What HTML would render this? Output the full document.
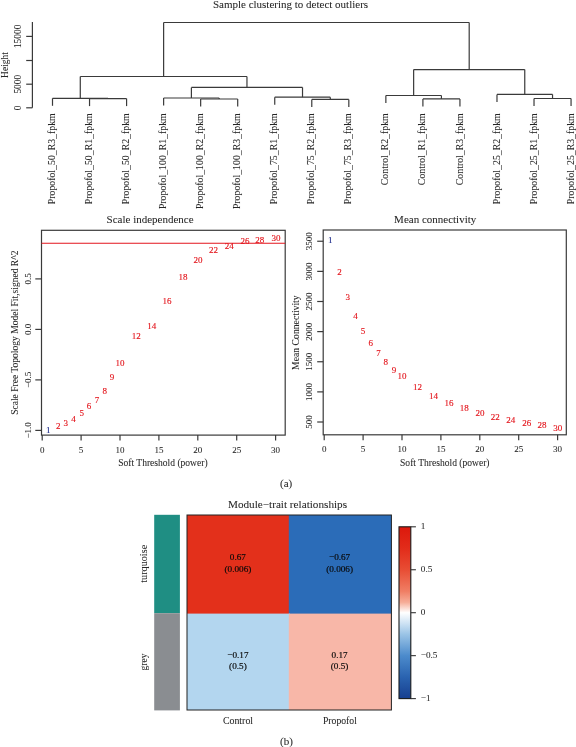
<!DOCTYPE html>
<html><head><meta charset="utf-8"><style>
html,body{margin:0;padding:0;background:#fff;}
body{width:576px;height:747px;overflow:hidden;}
#wrap{width:576px;height:747px;will-change:transform;}
svg{display:block;font-family:"Liberation Serif", serif;}
</style></head><body>
<div id="wrap"><svg width="576" height="747" viewBox="0 0 576 747">
<rect x="0" y="0" width="576" height="747" fill="#fff"/>
<text x="290.50" y="8.10" font-size="11" text-anchor="middle" fill="#262626" stroke="#262626" stroke-width="0.06">Sample clustering to detect outliers</text>
<line x1="32.40" y1="22.00" x2="32.40" y2="107.80" stroke="#3a3a3a" stroke-width="1.2"/>
<line x1="26.20" y1="107.80" x2="32.40" y2="107.80" stroke="#3a3a3a" stroke-width="1.2"/>
<text x="21.30" y="107.80" font-size="9.4" text-anchor="middle" fill="#262626" stroke="#262626" stroke-width="0.06" transform="rotate(-90 21.30 107.80)">0</text>
<line x1="26.20" y1="84.20" x2="32.40" y2="84.20" stroke="#3a3a3a" stroke-width="1.2"/>
<text x="21.30" y="84.20" font-size="9.4" text-anchor="middle" fill="#262626" stroke="#262626" stroke-width="0.06" transform="rotate(-90 21.30 84.20)">5000</text>
<line x1="26.20" y1="60.50" x2="32.40" y2="60.50" stroke="#3a3a3a" stroke-width="1.2"/>
<line x1="26.20" y1="36.40" x2="32.40" y2="36.40" stroke="#3a3a3a" stroke-width="1.2"/>
<text x="21.30" y="36.40" font-size="9.4" text-anchor="middle" fill="#262626" stroke="#262626" stroke-width="0.06" transform="rotate(-90 21.30 36.40)">15000</text>
<text x="8.00" y="65.00" font-size="9.5" text-anchor="middle" fill="#262626" stroke="#262626" stroke-width="0.06" transform="rotate(-90 8.00 65.00)">Height</text>
<line x1="89.54" y1="98.60" x2="126.58" y2="98.60" stroke="#3a3a3a" stroke-width="1.2"/>
<line x1="89.54" y1="98.60" x2="89.54" y2="106.10" stroke="#3a3a3a" stroke-width="1.2"/>
<line x1="126.58" y1="98.60" x2="126.58" y2="106.10" stroke="#3a3a3a" stroke-width="1.2"/>
<line x1="52.50" y1="98.30" x2="108.06" y2="98.30" stroke="#3a3a3a" stroke-width="1.2"/>
<line x1="52.50" y1="98.30" x2="52.50" y2="105.80" stroke="#3a3a3a" stroke-width="1.2"/>
<line x1="108.06" y1="98.30" x2="108.06" y2="98.60" stroke="#3a3a3a" stroke-width="1.2"/>
<line x1="200.66" y1="99.00" x2="237.70" y2="99.00" stroke="#3a3a3a" stroke-width="1.2"/>
<line x1="200.66" y1="99.00" x2="200.66" y2="106.50" stroke="#3a3a3a" stroke-width="1.2"/>
<line x1="237.70" y1="99.00" x2="237.70" y2="106.50" stroke="#3a3a3a" stroke-width="1.2"/>
<line x1="163.62" y1="98.00" x2="219.18" y2="98.00" stroke="#3a3a3a" stroke-width="1.2"/>
<line x1="163.62" y1="98.00" x2="163.62" y2="105.50" stroke="#3a3a3a" stroke-width="1.2"/>
<line x1="219.18" y1="98.00" x2="219.18" y2="99.00" stroke="#3a3a3a" stroke-width="1.2"/>
<line x1="311.78" y1="99.40" x2="348.82" y2="99.40" stroke="#3a3a3a" stroke-width="1.2"/>
<line x1="311.78" y1="99.40" x2="311.78" y2="106.90" stroke="#3a3a3a" stroke-width="1.2"/>
<line x1="348.82" y1="99.40" x2="348.82" y2="106.90" stroke="#3a3a3a" stroke-width="1.2"/>
<line x1="274.74" y1="97.20" x2="330.30" y2="97.20" stroke="#3a3a3a" stroke-width="1.2"/>
<line x1="274.74" y1="97.20" x2="274.74" y2="104.70" stroke="#3a3a3a" stroke-width="1.2"/>
<line x1="330.30" y1="97.20" x2="330.30" y2="99.40" stroke="#3a3a3a" stroke-width="1.2"/>
<line x1="191.40" y1="87.40" x2="302.52" y2="87.40" stroke="#3a3a3a" stroke-width="1.2"/>
<line x1="191.40" y1="87.40" x2="191.40" y2="98.00" stroke="#3a3a3a" stroke-width="1.2"/>
<line x1="302.52" y1="87.40" x2="302.52" y2="97.20" stroke="#3a3a3a" stroke-width="1.2"/>
<line x1="80.28" y1="76.50" x2="246.96" y2="76.50" stroke="#3a3a3a" stroke-width="1.2"/>
<line x1="80.28" y1="76.50" x2="80.28" y2="98.30" stroke="#3a3a3a" stroke-width="1.2"/>
<line x1="246.96" y1="76.50" x2="246.96" y2="87.40" stroke="#3a3a3a" stroke-width="1.2"/>
<line x1="422.90" y1="98.90" x2="459.94" y2="98.90" stroke="#3a3a3a" stroke-width="1.2"/>
<line x1="422.90" y1="98.90" x2="422.90" y2="106.40" stroke="#3a3a3a" stroke-width="1.2"/>
<line x1="459.94" y1="98.90" x2="459.94" y2="106.40" stroke="#3a3a3a" stroke-width="1.2"/>
<line x1="385.86" y1="95.50" x2="441.42" y2="95.50" stroke="#3a3a3a" stroke-width="1.2"/>
<line x1="385.86" y1="95.50" x2="385.86" y2="103.00" stroke="#3a3a3a" stroke-width="1.2"/>
<line x1="441.42" y1="95.50" x2="441.42" y2="98.90" stroke="#3a3a3a" stroke-width="1.2"/>
<line x1="534.02" y1="98.50" x2="571.06" y2="98.50" stroke="#3a3a3a" stroke-width="1.2"/>
<line x1="534.02" y1="98.50" x2="534.02" y2="106.00" stroke="#3a3a3a" stroke-width="1.2"/>
<line x1="571.06" y1="98.50" x2="571.06" y2="106.00" stroke="#3a3a3a" stroke-width="1.2"/>
<line x1="496.98" y1="94.40" x2="552.54" y2="94.40" stroke="#3a3a3a" stroke-width="1.2"/>
<line x1="496.98" y1="94.40" x2="496.98" y2="101.90" stroke="#3a3a3a" stroke-width="1.2"/>
<line x1="552.54" y1="94.40" x2="552.54" y2="98.50" stroke="#3a3a3a" stroke-width="1.2"/>
<line x1="413.64" y1="69.60" x2="524.76" y2="69.60" stroke="#3a3a3a" stroke-width="1.2"/>
<line x1="413.64" y1="69.60" x2="413.64" y2="95.50" stroke="#3a3a3a" stroke-width="1.2"/>
<line x1="524.76" y1="69.60" x2="524.76" y2="94.40" stroke="#3a3a3a" stroke-width="1.2"/>
<line x1="163.62" y1="22.50" x2="469.20" y2="22.50" stroke="#3a3a3a" stroke-width="1.2"/>
<line x1="163.62" y1="22.50" x2="163.62" y2="76.50" stroke="#3a3a3a" stroke-width="1.2"/>
<line x1="469.20" y1="22.50" x2="469.20" y2="69.60" stroke="#3a3a3a" stroke-width="1.2"/>
<text x="55.10" y="113.30" font-size="9.8" text-anchor="end" fill="#262626" stroke="#262626" stroke-width="0.06" transform="rotate(-90 55.10 113.30)">Propofol_50_R3_fpkm</text>
<text x="92.14" y="113.30" font-size="9.8" text-anchor="end" fill="#262626" stroke="#262626" stroke-width="0.06" transform="rotate(-90 92.14 113.30)">Propofol_50_R1_fpkm</text>
<text x="129.18" y="113.30" font-size="9.8" text-anchor="end" fill="#262626" stroke="#262626" stroke-width="0.06" transform="rotate(-90 129.18 113.30)">Propofol_50_R2_fpkm</text>
<text x="166.22" y="113.30" font-size="9.8" text-anchor="end" fill="#262626" stroke="#262626" stroke-width="0.06" transform="rotate(-90 166.22 113.30)">Propofol_100_R1_fpkm</text>
<text x="203.26" y="113.30" font-size="9.8" text-anchor="end" fill="#262626" stroke="#262626" stroke-width="0.06" transform="rotate(-90 203.26 113.30)">Propofol_100_R2_fpkm</text>
<text x="240.30" y="113.30" font-size="9.8" text-anchor="end" fill="#262626" stroke="#262626" stroke-width="0.06" transform="rotate(-90 240.30 113.30)">Propofol_100_R3_fpkm</text>
<text x="277.34" y="113.30" font-size="9.8" text-anchor="end" fill="#262626" stroke="#262626" stroke-width="0.06" transform="rotate(-90 277.34 113.30)">Propofol_75_R1_fpkm</text>
<text x="314.38" y="113.30" font-size="9.8" text-anchor="end" fill="#262626" stroke="#262626" stroke-width="0.06" transform="rotate(-90 314.38 113.30)">Propofol_75_R2_fpkm</text>
<text x="351.42" y="113.30" font-size="9.8" text-anchor="end" fill="#262626" stroke="#262626" stroke-width="0.06" transform="rotate(-90 351.42 113.30)">Propofol_75_R3_fpkm</text>
<text x="388.46" y="113.30" font-size="9.8" text-anchor="end" fill="#262626" stroke="#262626" stroke-width="0.06" transform="rotate(-90 388.46 113.30)">Control_R2_fpkm</text>
<text x="425.50" y="113.30" font-size="9.8" text-anchor="end" fill="#262626" stroke="#262626" stroke-width="0.06" transform="rotate(-90 425.50 113.30)">Control_R1_fpkm</text>
<text x="462.54" y="113.30" font-size="9.8" text-anchor="end" fill="#262626" stroke="#262626" stroke-width="0.06" transform="rotate(-90 462.54 113.30)">Control_R3_fpkm</text>
<text x="499.58" y="113.30" font-size="9.8" text-anchor="end" fill="#262626" stroke="#262626" stroke-width="0.06" transform="rotate(-90 499.58 113.30)">Propofol_25_R2_fpkm</text>
<text x="536.62" y="113.30" font-size="9.8" text-anchor="end" fill="#262626" stroke="#262626" stroke-width="0.06" transform="rotate(-90 536.62 113.30)">Propofol_25_R1_fpkm</text>
<text x="573.66" y="113.30" font-size="9.8" text-anchor="end" fill="#262626" stroke="#262626" stroke-width="0.06" transform="rotate(-90 573.66 113.30)">Propofol_25_R3_fpkm</text>
<rect x="41.5" y="230.3" width="243.7" height="204.8" fill="none" stroke="#3a3a3a" stroke-width="1.2"/>
<line x1="41.50" y1="243.30" x2="285.20" y2="243.30" stroke="#e3151c" stroke-width="1.1"/>
<line x1="35.30" y1="430.40" x2="41.50" y2="430.40" stroke="#3a3a3a" stroke-width="1.2"/>
<text x="31.00" y="430.40" font-size="9" text-anchor="middle" fill="#262626" stroke="#262626" stroke-width="0.06" transform="rotate(-90 31.00 430.40)">−1.0</text>
<line x1="35.30" y1="379.90" x2="41.50" y2="379.90" stroke="#3a3a3a" stroke-width="1.2"/>
<text x="31.00" y="379.90" font-size="9" text-anchor="middle" fill="#262626" stroke="#262626" stroke-width="0.06" transform="rotate(-90 31.00 379.90)">−0.5</text>
<line x1="35.30" y1="329.40" x2="41.50" y2="329.40" stroke="#3a3a3a" stroke-width="1.2"/>
<text x="31.00" y="329.40" font-size="9" text-anchor="middle" fill="#262626" stroke="#262626" stroke-width="0.06" transform="rotate(-90 31.00 329.40)">0.0</text>
<line x1="35.30" y1="278.90" x2="41.50" y2="278.90" stroke="#3a3a3a" stroke-width="1.2"/>
<text x="31.00" y="278.90" font-size="9" text-anchor="middle" fill="#262626" stroke="#262626" stroke-width="0.06" transform="rotate(-90 31.00 278.90)">0.5</text>
<line x1="42.20" y1="435.10" x2="42.20" y2="440.60" stroke="#3a3a3a" stroke-width="1.2"/>
<text x="42.20" y="452.50" font-size="9" text-anchor="middle" fill="#262626" stroke="#262626" stroke-width="0.06">0</text>
<line x1="81.10" y1="435.10" x2="81.10" y2="440.60" stroke="#3a3a3a" stroke-width="1.2"/>
<text x="81.10" y="452.50" font-size="9" text-anchor="middle" fill="#262626" stroke="#262626" stroke-width="0.06">5</text>
<line x1="120.00" y1="435.10" x2="120.00" y2="440.60" stroke="#3a3a3a" stroke-width="1.2"/>
<text x="120.00" y="452.50" font-size="9" text-anchor="middle" fill="#262626" stroke="#262626" stroke-width="0.06">10</text>
<line x1="158.90" y1="435.10" x2="158.90" y2="440.60" stroke="#3a3a3a" stroke-width="1.2"/>
<text x="158.90" y="452.50" font-size="9" text-anchor="middle" fill="#262626" stroke="#262626" stroke-width="0.06">15</text>
<line x1="197.80" y1="435.10" x2="197.80" y2="440.60" stroke="#3a3a3a" stroke-width="1.2"/>
<text x="197.80" y="452.50" font-size="9" text-anchor="middle" fill="#262626" stroke="#262626" stroke-width="0.06">20</text>
<line x1="236.70" y1="435.10" x2="236.70" y2="440.60" stroke="#3a3a3a" stroke-width="1.2"/>
<text x="236.70" y="452.50" font-size="9" text-anchor="middle" fill="#262626" stroke="#262626" stroke-width="0.06">25</text>
<line x1="275.60" y1="435.10" x2="275.60" y2="440.60" stroke="#3a3a3a" stroke-width="1.2"/>
<text x="275.60" y="452.50" font-size="9" text-anchor="middle" fill="#262626" stroke="#262626" stroke-width="0.06">30</text>
<text x="150.10" y="223.10" font-size="11" text-anchor="middle" fill="#262626" stroke="#262626" stroke-width="0.06">Scale independence</text>
<text x="162.90" y="465.80" font-size="9.55" text-anchor="middle" fill="#262626" stroke="#262626" stroke-width="0.06">Soft Threshold (power)</text>
<text x="17.90" y="332.70" font-size="9.55" text-anchor="middle" fill="#262626" stroke="#262626" stroke-width="0.06" transform="rotate(-90 17.90 332.70)">Scale Free Topology Model Fit,signed R^2</text>
<text x="48.30" y="432.90" font-size="9" text-anchor="middle" fill="#1c2a8a" stroke="#1c2a8a" stroke-width="0.14">1</text>
<text x="58.20" y="428.70" font-size="9" text-anchor="middle" fill="#e3151c" stroke="#e3151c" stroke-width="0.14">2</text>
<text x="65.70" y="425.60" font-size="9" text-anchor="middle" fill="#e3151c" stroke="#e3151c" stroke-width="0.14">3</text>
<text x="73.50" y="422.10" font-size="9" text-anchor="middle" fill="#e3151c" stroke="#e3151c" stroke-width="0.14">4</text>
<text x="81.70" y="415.50" font-size="9" text-anchor="middle" fill="#e3151c" stroke="#e3151c" stroke-width="0.14">5</text>
<text x="89.00" y="408.60" font-size="9" text-anchor="middle" fill="#e3151c" stroke="#e3151c" stroke-width="0.14">6</text>
<text x="97.00" y="403.10" font-size="9" text-anchor="middle" fill="#e3151c" stroke="#e3151c" stroke-width="0.14">7</text>
<text x="104.80" y="394.00" font-size="9" text-anchor="middle" fill="#e3151c" stroke="#e3151c" stroke-width="0.14">8</text>
<text x="112.00" y="379.60" font-size="9" text-anchor="middle" fill="#e3151c" stroke="#e3151c" stroke-width="0.14">9</text>
<text x="120.00" y="365.50" font-size="9" text-anchor="middle" fill="#e3151c" stroke="#e3151c" stroke-width="0.14">10</text>
<text x="136.20" y="339.10" font-size="9" text-anchor="middle" fill="#e3151c" stroke="#e3151c" stroke-width="0.14">12</text>
<text x="151.80" y="329.35" font-size="9" text-anchor="middle" fill="#e3151c" stroke="#e3151c" stroke-width="0.14">14</text>
<text x="167.00" y="304.35" font-size="9" text-anchor="middle" fill="#e3151c" stroke="#e3151c" stroke-width="0.14">16</text>
<text x="183.00" y="280.40" font-size="9" text-anchor="middle" fill="#e3151c" stroke="#e3151c" stroke-width="0.14">18</text>
<text x="198.10" y="263.40" font-size="9" text-anchor="middle" fill="#e3151c" stroke="#e3151c" stroke-width="0.14">20</text>
<text x="213.40" y="252.50" font-size="9" text-anchor="middle" fill="#e3151c" stroke="#e3151c" stroke-width="0.14">22</text>
<text x="229.30" y="249.10" font-size="9" text-anchor="middle" fill="#e3151c" stroke="#e3151c" stroke-width="0.14">24</text>
<text x="244.90" y="244.30" font-size="9" text-anchor="middle" fill="#e3151c" stroke="#e3151c" stroke-width="0.14">26</text>
<text x="259.80" y="243.00" font-size="9" text-anchor="middle" fill="#e3151c" stroke="#e3151c" stroke-width="0.14">28</text>
<text x="275.90" y="241.10" font-size="9" text-anchor="middle" fill="#e3151c" stroke="#e3151c" stroke-width="0.14">30</text>
<rect x="323.2" y="230.0" width="243.09999999999997" height="204.8" fill="none" stroke="#3a3a3a" stroke-width="1.2"/>
<line x1="317.20" y1="422.00" x2="323.20" y2="422.00" stroke="#3a3a3a" stroke-width="1.2"/>
<text x="312.20" y="422.00" font-size="9" text-anchor="middle" fill="#262626" stroke="#262626" stroke-width="0.06" transform="rotate(-90 312.20 422.00)">500</text>
<line x1="317.20" y1="391.88" x2="323.20" y2="391.88" stroke="#3a3a3a" stroke-width="1.2"/>
<text x="312.20" y="391.88" font-size="9" text-anchor="middle" fill="#262626" stroke="#262626" stroke-width="0.06" transform="rotate(-90 312.20 391.88)">1000</text>
<line x1="317.20" y1="361.75" x2="323.20" y2="361.75" stroke="#3a3a3a" stroke-width="1.2"/>
<text x="312.20" y="361.75" font-size="9" text-anchor="middle" fill="#262626" stroke="#262626" stroke-width="0.06" transform="rotate(-90 312.20 361.75)">1500</text>
<line x1="317.20" y1="331.62" x2="323.20" y2="331.62" stroke="#3a3a3a" stroke-width="1.2"/>
<text x="312.20" y="331.62" font-size="9" text-anchor="middle" fill="#262626" stroke="#262626" stroke-width="0.06" transform="rotate(-90 312.20 331.62)">2000</text>
<line x1="317.20" y1="301.50" x2="323.20" y2="301.50" stroke="#3a3a3a" stroke-width="1.2"/>
<text x="312.20" y="301.50" font-size="9" text-anchor="middle" fill="#262626" stroke="#262626" stroke-width="0.06" transform="rotate(-90 312.20 301.50)">2500</text>
<line x1="317.20" y1="271.38" x2="323.20" y2="271.38" stroke="#3a3a3a" stroke-width="1.2"/>
<text x="312.20" y="271.38" font-size="9" text-anchor="middle" fill="#262626" stroke="#262626" stroke-width="0.06" transform="rotate(-90 312.20 271.38)">3000</text>
<line x1="317.20" y1="241.25" x2="323.20" y2="241.25" stroke="#3a3a3a" stroke-width="1.2"/>
<text x="312.20" y="241.25" font-size="9" text-anchor="middle" fill="#262626" stroke="#262626" stroke-width="0.06" transform="rotate(-90 312.20 241.25)">3500</text>
<line x1="324.20" y1="434.80" x2="324.20" y2="440.30" stroke="#3a3a3a" stroke-width="1.2"/>
<text x="324.20" y="452.30" font-size="9" text-anchor="middle" fill="#262626" stroke="#262626" stroke-width="0.06">0</text>
<line x1="363.10" y1="434.80" x2="363.10" y2="440.30" stroke="#3a3a3a" stroke-width="1.2"/>
<text x="363.10" y="452.30" font-size="9" text-anchor="middle" fill="#262626" stroke="#262626" stroke-width="0.06">5</text>
<line x1="402.00" y1="434.80" x2="402.00" y2="440.30" stroke="#3a3a3a" stroke-width="1.2"/>
<text x="402.00" y="452.30" font-size="9" text-anchor="middle" fill="#262626" stroke="#262626" stroke-width="0.06">10</text>
<line x1="440.90" y1="434.80" x2="440.90" y2="440.30" stroke="#3a3a3a" stroke-width="1.2"/>
<text x="440.90" y="452.30" font-size="9" text-anchor="middle" fill="#262626" stroke="#262626" stroke-width="0.06">15</text>
<line x1="479.80" y1="434.80" x2="479.80" y2="440.30" stroke="#3a3a3a" stroke-width="1.2"/>
<text x="479.80" y="452.30" font-size="9" text-anchor="middle" fill="#262626" stroke="#262626" stroke-width="0.06">20</text>
<line x1="518.70" y1="434.80" x2="518.70" y2="440.30" stroke="#3a3a3a" stroke-width="1.2"/>
<text x="518.70" y="452.30" font-size="9" text-anchor="middle" fill="#262626" stroke="#262626" stroke-width="0.06">25</text>
<line x1="557.60" y1="434.80" x2="557.60" y2="440.30" stroke="#3a3a3a" stroke-width="1.2"/>
<text x="557.60" y="452.30" font-size="9" text-anchor="middle" fill="#262626" stroke="#262626" stroke-width="0.06">30</text>
<text x="435.20" y="223.10" font-size="11" text-anchor="middle" fill="#262626" stroke="#262626" stroke-width="0.06">Mean connectivity</text>
<text x="444.80" y="466.00" font-size="9.55" text-anchor="middle" fill="#262626" stroke="#262626" stroke-width="0.06">Soft Threshold (power)</text>
<text x="299.40" y="332.60" font-size="9.7" text-anchor="middle" fill="#262626" stroke="#262626" stroke-width="0.06" transform="rotate(-90 299.40 332.60)">Mean Connectivity</text>
<text x="330.30" y="243.20" font-size="9" text-anchor="middle" fill="#1c2a8a" stroke="#1c2a8a" stroke-width="0.14">1</text>
<text x="339.60" y="275.20" font-size="9" text-anchor="middle" fill="#e3151c" stroke="#e3151c" stroke-width="0.14">2</text>
<text x="347.70" y="299.60" font-size="9" text-anchor="middle" fill="#e3151c" stroke="#e3151c" stroke-width="0.14">3</text>
<text x="355.40" y="318.90" font-size="9" text-anchor="middle" fill="#e3151c" stroke="#e3151c" stroke-width="0.14">4</text>
<text x="362.90" y="333.50" font-size="9" text-anchor="middle" fill="#e3151c" stroke="#e3151c" stroke-width="0.14">5</text>
<text x="370.80" y="346.00" font-size="9" text-anchor="middle" fill="#e3151c" stroke="#e3151c" stroke-width="0.14">6</text>
<text x="378.50" y="356.40" font-size="9" text-anchor="middle" fill="#e3151c" stroke="#e3151c" stroke-width="0.14">7</text>
<text x="385.80" y="365.40" font-size="9" text-anchor="middle" fill="#e3151c" stroke="#e3151c" stroke-width="0.14">8</text>
<text x="394.00" y="372.50" font-size="9" text-anchor="middle" fill="#e3151c" stroke="#e3151c" stroke-width="0.14">9</text>
<text x="401.90" y="379.35" font-size="9" text-anchor="middle" fill="#e3151c" stroke="#e3151c" stroke-width="0.14">10</text>
<text x="417.60" y="389.90" font-size="9" text-anchor="middle" fill="#e3151c" stroke="#e3151c" stroke-width="0.14">12</text>
<text x="433.50" y="399.00" font-size="9" text-anchor="middle" fill="#e3151c" stroke="#e3151c" stroke-width="0.14">14</text>
<text x="449.10" y="405.60" font-size="9" text-anchor="middle" fill="#e3151c" stroke="#e3151c" stroke-width="0.14">16</text>
<text x="464.20" y="410.80" font-size="9" text-anchor="middle" fill="#e3151c" stroke="#e3151c" stroke-width="0.14">18</text>
<text x="479.90" y="415.50" font-size="9" text-anchor="middle" fill="#e3151c" stroke="#e3151c" stroke-width="0.14">20</text>
<text x="495.30" y="419.50" font-size="9" text-anchor="middle" fill="#e3151c" stroke="#e3151c" stroke-width="0.14">22</text>
<text x="510.80" y="423.10" font-size="9" text-anchor="middle" fill="#e3151c" stroke="#e3151c" stroke-width="0.14">24</text>
<text x="526.70" y="426.10" font-size="9" text-anchor="middle" fill="#e3151c" stroke="#e3151c" stroke-width="0.14">26</text>
<text x="542.00" y="428.40" font-size="9" text-anchor="middle" fill="#e3151c" stroke="#e3151c" stroke-width="0.14">28</text>
<text x="557.70" y="431.10" font-size="9" text-anchor="middle" fill="#e3151c" stroke="#e3151c" stroke-width="0.14">30</text>
<text x="286.10" y="486.50" font-size="11" text-anchor="middle" fill="#262626" stroke="#262626" stroke-width="0.06">(a)</text>
<text x="287.50" y="508.00" font-size="11.2" text-anchor="middle" fill="#262626" stroke="#262626" stroke-width="0.06">Module−trait relationships</text>
<rect x="154.2" y="514.8" width="25.7" height="98.4" fill="#1f8e83"/>
<rect x="154.2" y="613.2" width="25.7" height="97.2" fill="#8a8d91"/>
<rect x="187.0" y="515.0" width="102.80000000000001" height="99.60000000000002" fill="#e3301b"/>
<rect x="288.8" y="515.0" width="102.59999999999997" height="99.60000000000002" fill="#2b6cb8"/>
<rect x="187.0" y="613.6" width="102.80000000000001" height="96.39999999999998" fill="#b3d6ef"/>
<rect x="288.8" y="613.6" width="102.59999999999997" height="96.39999999999998" fill="#f8b7a8"/>
<rect x="187.0" y="515.0" width="204.39999999999998" height="195.0" fill="none" stroke="#222" stroke-width="1.0"/>
<text x="237.90" y="560.10" font-size="9.2" text-anchor="middle" fill="#0a0a0a" stroke="#0a0a0a" stroke-width="0.18">0.67</text>
<text x="237.90" y="571.70" font-size="9.2" text-anchor="middle" fill="#0a0a0a" stroke="#0a0a0a" stroke-width="0.18">(0.006)</text>
<text x="339.60" y="560.10" font-size="9.2" text-anchor="middle" fill="#0a0a0a" stroke="#0a0a0a" stroke-width="0.18">−0.67</text>
<text x="339.60" y="571.70" font-size="9.2" text-anchor="middle" fill="#0a0a0a" stroke="#0a0a0a" stroke-width="0.18">(0.006)</text>
<text x="237.90" y="657.60" font-size="9.2" text-anchor="middle" fill="#0a0a0a" stroke="#0a0a0a" stroke-width="0.18">−0.17</text>
<text x="237.90" y="669.20" font-size="9.2" text-anchor="middle" fill="#0a0a0a" stroke="#0a0a0a" stroke-width="0.18">(0.5)</text>
<text x="339.60" y="657.60" font-size="9.2" text-anchor="middle" fill="#0a0a0a" stroke="#0a0a0a" stroke-width="0.18">0.17</text>
<text x="339.60" y="669.20" font-size="9.2" text-anchor="middle" fill="#0a0a0a" stroke="#0a0a0a" stroke-width="0.18">(0.5)</text>
<text x="146.70" y="563.80" font-size="10.2" text-anchor="middle" fill="#262626" stroke="#262626" stroke-width="0.06" transform="rotate(-90 146.70 563.80)">turquoise</text>
<text x="147.20" y="661.90" font-size="9.6" text-anchor="middle" fill="#262626" stroke="#262626" stroke-width="0.06" transform="rotate(-90 147.20 661.90)">grey</text>
<text x="238.00" y="724.30" font-size="9.9" text-anchor="middle" fill="#262626" stroke="#262626" stroke-width="0.06">Control</text>
<text x="339.90" y="724.30" font-size="9.7" text-anchor="middle" fill="#262626" stroke="#262626" stroke-width="0.06">Propofol</text>
<defs><linearGradient id="cb" x1="0" y1="0" x2="0" y2="1"><stop offset="0" stop-color="#dc180c"/><stop offset="0.125" stop-color="#e22c1a"/><stop offset="0.25" stop-color="#e84d34"/><stop offset="0.375" stop-color="#f07e64"/><stop offset="0.44" stop-color="#f6ad98"/><stop offset="0.5" stop-color="#ffffff"/><stop offset="0.56" stop-color="#cfe3f4"/><stop offset="0.625" stop-color="#9bc4e6"/><stop offset="0.75" stop-color="#4c8bcc"/><stop offset="0.875" stop-color="#2a63b0"/><stop offset="1" stop-color="#173f8f"/></linearGradient></defs>
<rect x="399.0" y="526.8" width="11.800000000000011" height="171.80000000000007" fill="url(#cb)" stroke="#1a1a1a" stroke-width="1.1"/>
<line x1="410.80" y1="526.80" x2="415.90" y2="526.80" stroke="#333" stroke-width="1.1"/>
<text x="420.80" y="529.20" font-size="9.2" text-anchor="start" fill="#262626" stroke="#262626" stroke-width="0.06">1</text>
<line x1="410.80" y1="569.75" x2="415.90" y2="569.75" stroke="#333" stroke-width="1.1"/>
<text x="420.80" y="572.15" font-size="9.2" text-anchor="start" fill="#262626" stroke="#262626" stroke-width="0.06">0.5</text>
<line x1="410.80" y1="612.70" x2="415.90" y2="612.70" stroke="#333" stroke-width="1.1"/>
<text x="420.80" y="615.10" font-size="9.2" text-anchor="start" fill="#262626" stroke="#262626" stroke-width="0.06">0</text>
<line x1="410.80" y1="655.65" x2="415.90" y2="655.65" stroke="#333" stroke-width="1.1"/>
<text x="420.80" y="658.05" font-size="9.2" text-anchor="start" fill="#262626" stroke="#262626" stroke-width="0.06">−0.5</text>
<line x1="410.80" y1="698.60" x2="415.90" y2="698.60" stroke="#333" stroke-width="1.1"/>
<text x="420.80" y="701.00" font-size="9.2" text-anchor="start" fill="#262626" stroke="#262626" stroke-width="0.06">−1</text>
<text x="286.40" y="745.10" font-size="11" text-anchor="middle" fill="#262626" stroke="#262626" stroke-width="0.06">(b)</text>
</svg></div>
</body></html>
